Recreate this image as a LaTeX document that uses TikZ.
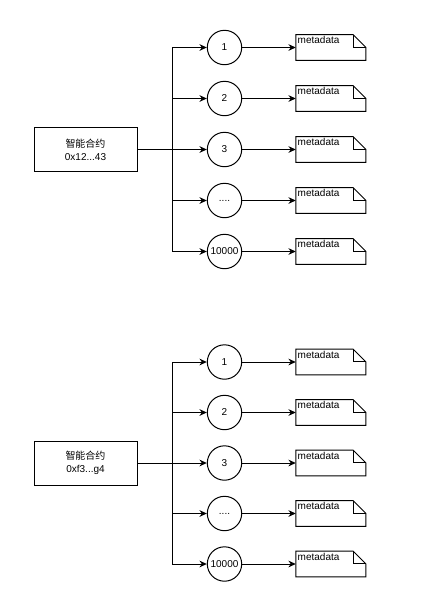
\documentclass[tikz,border=0pt]{standalone}
\usepackage{fontspec}
\setmainfont{Liberation Sans}
\newfontfamily\cjk{Noto Sans CJK SC}
\usetikzlibrary{arrows.meta}

\tikzset{
  contract/.style={draw, minimum width=77.25pt, minimum height=33pt, align=center, font=\fontsize{7.5}{9.75}\selectfont},
  token/.style={draw, circle, minimum size=25.8pt, inner sep=0pt, font=\fontsize{7.5}{9}\selectfont},
  note/.style={minimum width=51.75pt, minimum height=18.4pt, inner sep=0pt,
    label={[anchor=north west, inner sep=1.1pt, font=\fontsize{7.5}{9}\selectfont]north west:metadata}},
  link/.style={-{Stealth[length=5.5pt,width=5pt]}},
}
% folded corner outline round a note node (y is flipped in the picture)
\newcommand{\foldnote}[1]{%
  \draw (#1.north west) -- ([xshift=-9.4pt]#1.north east) -- ([yshift=9.4pt]#1.north east) -- (#1.south east) -- (#1.south west) -- cycle;
  \draw ([xshift=-9.4pt]#1.north east) |- ([yshift=9.4pt]#1.north east);}

\begin{document}
\begin{tikzpicture}[x=0.75pt,y=0.75pt,yscale=-1,xscale=1,line width=0.75pt]
\path[use as bounding box] (0,0) rectangle (441,594);

%Contract 1 
\node[contract] (sc1) at (85.5,149.5) {{\cjk 智能合约}\\0x12...43};
% Token Nodes
\node[token] (a1) at (224.5,47.5) {1};
\node[token] (a2) at (224.5,98.5) {2};
\node[token] (a3) at (224.5,149.5) {3};
\node[token] (a4) at (224.5,200.5) {....};
\node[token] (a5) at (224.5,251.5) {10000};
% Metadata Nodes
\node[note] (m1) at (330.75,47.5) {};
\node[note] (m2) at (330.75,98.5) {};
\node[note] (m3) at (330.75,149.5) {};
\node[note] (m4) at (330.75,200.5) {};
\node[note] (m5) at (330.75,251.5) {};
\foldnote{m1} \foldnote{m2} \foldnote{m3} \foldnote{m4} \foldnote{m5}
% Junctions
\coordinate (j1) at (172,47.5);
\coordinate (j2) at (172,98.5);
\coordinate (j3) at (172,149.5);
\coordinate (j4) at (172,200.5);
\coordinate (j5) at (172,251.5);
%Straight Lines 
\draw (sc1.east) -- (j3);
\draw (j1) -- (j5);
\draw[link] (j1) -- (a1);
\draw[link] (j2) -- (a2);
\draw[link] (j3) -- (a3);
\draw[link] (j4) -- (a4);
\draw[link] (j5) -- (a5);
\draw[link] (a1) -- (m1);
\draw[link] (a2) -- (m2);
\draw[link] (a3) -- (m3);
\draw[link] (a4) -- (m4);
\draw[link] (a5) -- (m5);

%Contract 2 
\node[contract] (sc2) at (85.5,463) {{\cjk 智能合约}\\0xf3...g4};
% Token Nodes
\node[token] (b1) at (224.5,362) {1};
\node[token] (b2) at (224.5,412.5) {2};
\node[token] (b3) at (224.5,463) {3};
\node[token] (b4) at (224.5,513.5) {....};
\node[token] (b5) at (224.5,564) {10000};
% Metadata Nodes
\node[note] (n1) at (330.75,362) {};
\node[note] (n2) at (330.75,412.5) {};
\node[note] (n3) at (330.75,463) {};
\node[note] (n4) at (330.75,513.5) {};
\node[note] (n5) at (330.75,564) {};
\foldnote{n1} \foldnote{n2} \foldnote{n3} \foldnote{n4} \foldnote{n5}
% Junctions
\coordinate (k1) at (172,362);
\coordinate (k2) at (172,412.5);
\coordinate (k3) at (172,463);
\coordinate (k4) at (172,513.5);
\coordinate (k5) at (172,564);
%Straight Lines 
\draw (sc2.east) -- (k3);
\draw (k1) -- (k5);
\draw[link] (k1) -- (b1);
\draw[link] (k2) -- (b2);
\draw[link] (k3) -- (b3);
\draw[link] (k4) -- (b4);
\draw[link] (k5) -- (b5);
\draw[link] (b1) -- (n1);
\draw[link] (b2) -- (n2);
\draw[link] (b3) -- (n3);
\draw[link] (b4) -- (n4);
\draw[link] (b5) -- (n5);

\end{tikzpicture}
\end{document}
